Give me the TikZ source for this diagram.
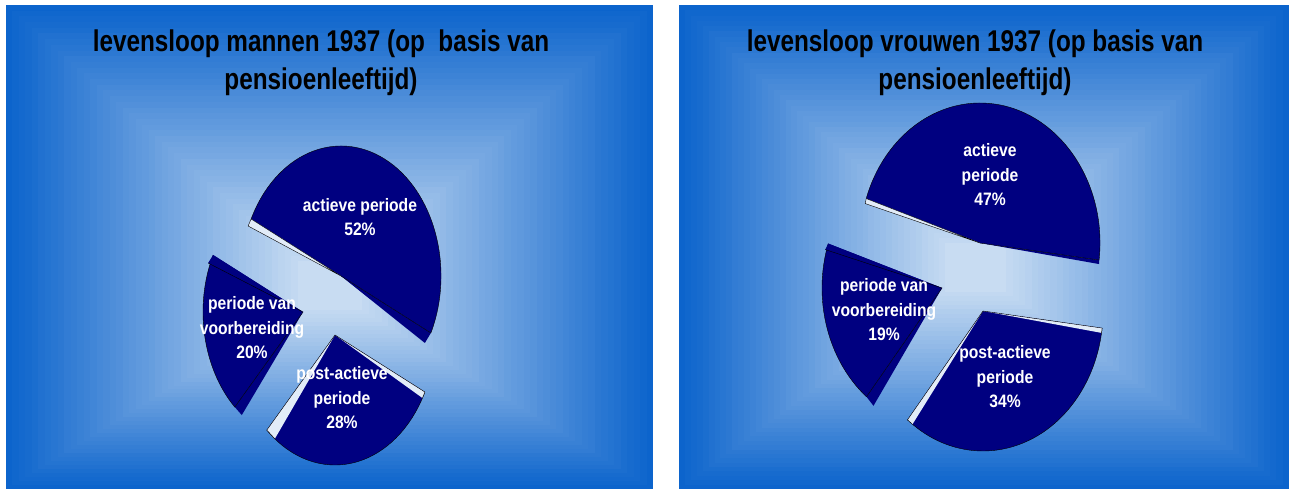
\documentclass[tikz,border=0pt]{standalone}
\usepackage{fontspec}
\usetikzlibrary{calc}
\newfontfamily\titlefont{Liberation Sans}[FakeStretch=0.81]
\newfontfamily\labelfont{Liberation Sans}[FakeStretch=0.87]
\definecolor{bgout}{RGB}{12,100,204}
\definecolor{bgin}{RGB}{200,220,242}
\definecolor{piecol}{RGB}{0,0,128}
\definecolor{sidecol}{RGB}{226,236,248}

\tikzset{
  slicefill/.style={fill=piecol},
  rimline/.style={draw=black, line width=0.4pt},
  sidelight/.style={fill=sidecol},
  pielabel/.style={text=white, align=center, inner sep=0pt,
    font=\labelfont\bfseries\fontsize{18}{24.5}\selectfont},
  charttitle/.style={text=black, align=center, inner sep=0pt,
    font=\titlefont\bfseries\fontsize{30}{38}\selectfont}
}

% panel with rectangular gradient: x0,y0,x1,y1,cx,cy
\newcommand{\gradpanel}[6]{%
  \foreach \k in {0,...,45}{%
    \pgfmathsetmacro\sc{1-0.9*\k/45}%
    \pgfmathtruncatemacro\pc{100*\k/45}%
    \fill[bgin!\pc!bgout] ({#5+\sc*(#1-#5)},{#6+\sc*(#2-#6)})
      rectangle ({#5+\sc*(#3-#5)},{#6+\sc*(#4-#6)});
  }%
}

% slice: name, cx, cy, a, b, t1, t2
\newcommand{\pieslice}[7]{%
  \coordinate (#1-c) at (#2,#3);
  \coordinate (#1-s) at ($(#1-c)+(#6:#4pt and #5pt)$);
  \coordinate (#1-e) at ($(#1-c)+(#7:#4pt and #5pt)$);
  \fill[slicefill] (#1-c) -- (#1-s)
    arc[start angle=#6, end angle=#7, x radius=#4pt, y radius=#5pt] -- cycle;
  \draw[rimline] (#1-s)
    arc[start angle=#6, end angle=#7, x radius=#4pt, y radius=#5pt];
}

\begin{document}
\begin{tikzpicture}[x=1pt, y=1pt]
\useasboundingbox (0,0) rectangle (1289,489);
\fill[white] (0,0) rectangle (1289,489);
\gradpanel{6}{0}{653}{484}{330}{199}
\gradpanel{679}{0}{1289}{484}{975}{219}

% mannen
\pieslice{mact}{341}{213}{100}{130}{-26}{154}
\pieslice{mvb}{303}{177}{100}{130}{154}{227}
\pieslice{mpa}{335}{154}{100}{130}{227}{334}

\filldraw[sidelight, rimline] (mact-c) -- (mact-e) -- ++(-3,-7) -- cycle;
\fill[slicefill] (mact-c) -- (mact-s) -- ++(-6,-10) -- cycle;
\draw[rimline] (mact-c) -- (mact-s);
\fill[slicefill] (mvb-c) -- (mvb-s) -- ++(-5,-8) -- cycle;
\draw[rimline] (mvb-c) -- ($(mvb-s)+(-5,-8)$);
\fill[slicefill] (mvb-c) -- (mvb-e) -- ++(7,-8) -- cycle;
\draw[rimline] (mvb-c) -- (mvb-e);
\coordinate (mpa-p) at ($(mpa-c)+(233:100pt and 130pt)$);
\coordinate (mpa-q) at ($(mpa-c)+(331:100pt and 130pt)$);
\fill[sidelight] (mpa-c) -- (mpa-s) -- (mpa-p) -- cycle;
\fill[sidelight] (mpa-c) -- (mpa-e) -- (mpa-q) -- cycle;
\draw[rimline] (mpa-p) -- (mpa-s) -- (mpa-c) -- (mpa-e) -- (mpa-q);

% vrouwen
\pieslice{vact}{980}{246}{120}{140}{-7}{161.5}
\pieslice{vvb}{942}{201}{120}{140}{161.5}{231}
\pieslice{vpa}{983}{178}{120}{140}{231}{353}

\filldraw[sidelight, rimline] (vact-c) -- (vact-e) -- ++(-1,-5) -- cycle;
\fill[slicefill] (vact-c) -- (vact-s) -- ++(0,-4) -- cycle;
\draw[rimline] (vact-c) -- (vact-s);
\fill[slicefill] (vvb-c) -- (vvb-s) -- ++(-3,-6) -- cycle;
\draw[rimline] (vvb-c) -- ($(vvb-s)+(-3,-6)$);
\fill[slicefill] (vvb-c) -- (vvb-e) -- ++(7,-9) -- cycle;
\draw[rimline] (vvb-c) -- (vvb-e);
\coordinate (vpa-p) at ($(vpa-c)+(234:120pt and 140pt)$);
\coordinate (vpa-q) at ($(vpa-c)+(351:120pt and 140pt)$);
\fill[sidelight] (vpa-c) -- (vpa-s) -- (vpa-p) -- cycle;
\fill[sidelight] (vpa-c) -- (vpa-e) -- (vpa-q) -- cycle;
\draw[rimline] (vpa-p) -- (vpa-s) -- (vpa-c) -- (vpa-e) -- (vpa-q);

% titels
\node[charttitle] (title-m) at (321,426) {levensloop mannen 1937 (op\ \ basis van\\pensioenleeftijd)};
\node[charttitle] (title-v) at (975,426) {levensloop vrouwen 1937 (op basis van\\pensioenleeftijd)};

% labels
\node[pielabel] (lab-mact) at (360,272) {actieve periode\\52\%};
\node[pielabel] (lab-mvb) at (252,161) {periode van\\voorbereiding\\20\%};
\node[pielabel] (lab-mpa) at (342,91) {post-actieve\\periode\\28\%};
\node[pielabel] (lab-vact) at (990,314) {actieve\\periode\\47\%};
\node[pielabel] (lab-vvb) at (884,179) {periode van\\voorbereiding\\19\%};
\node[pielabel] (lab-vpa) at (1005,112) {post-actieve\\periode\\34\%};
\end{tikzpicture}
\end{document}
